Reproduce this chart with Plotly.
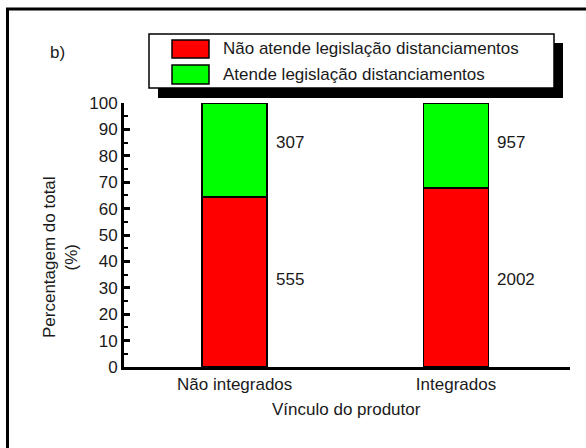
import plotly.graph_objects as go

categories = ["Não integrados", "Integrados"]
series_names = ["Não atende legislação distanciamentos", "Atende legislação distanciamentos"]
nao_atende = [555, 2002]
atende = [307, 957]
colors = ["#ff0000", "#00ff00"]
y_ticks = [0, 10, 20, 30, 40, 50, 60, 70, 80, 90, 100]

totals = [a + b for a, b in zip(nao_atende, atende)]
pct_nao = [100 * a / t for a, t in zip(nao_atende, totals)]
pct_at = [100 * b / t for b, t in zip(atende, totals)]

W, H = 586, 448
L, R, T, B = 124, 570, 103, 367
FONT = "Liberation Sans, Arial, sans-serif"
TXT = "#1a1a1a"
bar_w = 0.293


def px(x):
    return (x - L) / (R - L)


def py(y):
    return (B - y) / (B - T)


fig = go.Figure()
xs = list(range(len(categories)))
for vals, name, col in [(pct_nao, series_names[0], colors[0]), (pct_at, series_names[1], colors[1])]:
    fig.add_trace(go.Bar(x=xs, y=vals, name=name, width=bar_w,
                         marker=dict(color=col, line=dict(color="black", width=1.8)),
                         showlegend=False, hoverinfo="skip"))

annotations = []
for i in xs:
    annotations.append(dict(x=i + bar_w / 2, y=85, xref="x", yref="y", text=str(atende[i]),
                            showarrow=False, xanchor="left", xshift=7,
                            font=dict(size=17, family=FONT, color=TXT)))
    annotations.append(dict(x=i + bar_w / 2, y=33, xref="x", yref="y", text=str(nao_atende[i]),
                            showarrow=False, xanchor="left", xshift=7,
                            font=dict(size=17, family=FONT, color=TXT)))

# axis titles
annotations.append(dict(x=px(60), y=py(257), xref="paper", yref="paper",
                        text="Percentagem do total<br>(%)", textangle=-90, showarrow=False,
                        xanchor="center", yanchor="middle",
                        font=dict(size=17, family=FONT, color=TXT)))
annotations.append(dict(x=px(346), y=py(409), xref="paper", yref="paper",
                        text="Vínculo do produtor", showarrow=False,
                        xanchor="center", yanchor="middle",
                        font=dict(size=17, family=FONT, color=TXT)))
annotations.append(dict(x=px(48), y=py(53), xref="paper", yref="paper",
                        text="b)", showarrow=False, xanchor="left", yanchor="middle",
                        font=dict(size=17, family=FONT, color=TXT)))

shapes = []
# outer frame
shapes.append(dict(type="rect", xref="paper", yref="paper", x0=px(7.5), x1=px(620),
                   y0=py(9), y1=py(480), line=dict(color="black", width=3), layer="below"))
# legend shadow & box
shapes.append(dict(type="rect", xref="paper", yref="paper", x0=px(158), x1=px(563),
                   y0=py(43), y1=py(98), fillcolor="black", line=dict(width=0)))
shapes.append(dict(type="rect", xref="paper", yref="paper", x0=px(149), x1=px(554),
                   y0=py(34), y1=py(88), fillcolor="white", line=dict(color="black", width=1.5)))
sw_y = [(40, 58), (65, 84)]
for (y0, y1), col, name in zip(sw_y, colors, series_names):
    shapes.append(dict(type="rect", xref="paper", yref="paper", x0=px(172), x1=px(209),
                       y0=py(y0), y1=py(y1), fillcolor=col, line=dict(color="black", width=1.5)))
    annotations.append(dict(x=px(221), y=py((y0 + y1) / 2), xref="paper", yref="paper",
                            text=name, showarrow=False, xanchor="left", yanchor="middle",
                            font=dict(size=17, family=FONT, color=TXT)))

fig.update_layout(
    width=W, height=H,
    margin=dict(l=L, r=W - R, t=T, b=H - B, pad=0),
    barmode="stack",
    plot_bgcolor="white", paper_bgcolor="white",
    font=dict(family=FONT, size=17, color=TXT),
    shapes=shapes, annotations=annotations,
    hovermode=False,
    xaxis=dict(range=[-0.5, 1.515], tickvals=xs, ticktext=categories, showline=True,
               linecolor="black", linewidth=3, ticks="", showgrid=False, zeroline=False,
               tickfont=dict(size=17)),
    yaxis=dict(range=[0, 100], tickvals=y_ticks, showline=True, linecolor="black", linewidth=3,
               ticks="inside", ticklen=6, tickwidth=2.5, tickcolor="black", showgrid=False,
               zeroline=False, tickfont=dict(size=17),
               minor=dict(ticks="inside", ticklen=4, tickwidth=2, tickcolor="black", dtick=5,
                          showgrid=False)),
)

fig.write_html("out.html", config={"displayModeBar": False},
               post_script="document.body.style.margin='0';document.body.style.overflow='hidden';")
